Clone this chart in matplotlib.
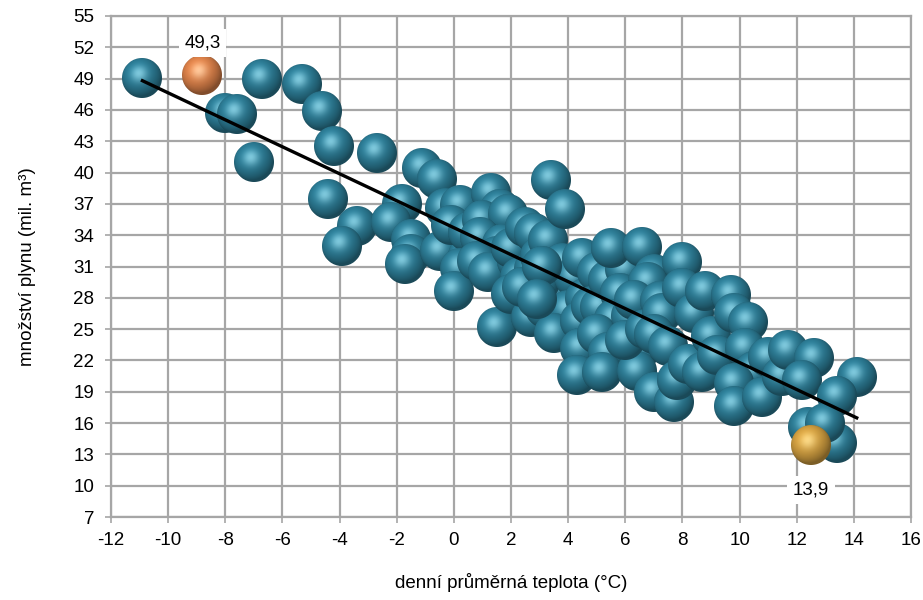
import numpy as np
import matplotlib
matplotlib.use("Agg")
import matplotlib.pyplot as plt
from matplotlib.offsetbox import OffsetImage, AnnotationBbox

# --- datos --- #
teplota = [-10.9, -6.7, -5.3, -4.6, -8.0, -7.6, -7.0, -4.2, -2.7, -4.4, -3.4, -3.9,
           -1.1, -0.6, -1.8, -2.2, -1.5, -1.5, -1.7, -0.5, 0.5, -0.3, 0.2, -0.1, 0.5,
           1.3, 1.6, 1.0, 1.9, 0.9, 1.7, 1.5, 0.2, 0.0, 0.8, 1.2, 1.5, 2.2, 2.0, 2.3,
           2.0, 2.8, 2.5, 2.8, 3.0, 3.3, 2.7, 3.2, 3.4, 3.9, 3.5, 3.0, 3.8, 4.2, 4.5,
           4.0, 4.6, 3.5, 4.4, 4.4, 4.3, 5.0, 4.8, 5.1, 5.4, 6.0, 5.5, 6.6, 5.8, 5.6,
           5.0, 6.2, 6.5, 5.4, 5.2, 6.4, 6.0, 7.0, 6.8, 6.3, 6.7, 7.2, 7.3, 7.0, 7.5,
           8.0, 8.0, 8.4, 7.0, 7.7, 7.8, 8.2, 8.7, 8.8, 9.7, 9.0, 9.8, 10.3, 9.2, 10.2,
           10.5, 9.8, 9.8, 10.8, 11.0, 11.5, 11.7, 12.6, 12.2, 14.1, 13.4, 13.4, 12.4,
           13.0, 2.4, 3.1, 2.9]
plyn = [49.1, 49.0, 48.5, 45.9, 45.7, 45.6, 41.0, 42.5, 41.9, 37.5, 34.9, 33.0,
        40.4, 39.4, 37.0, 35.3, 33.6, 32.2, 31.2, 32.5, 32.0, 36.6, 36.9, 35.0, 34.3,
        38.0, 36.5, 35.5, 36.0, 33.8, 33.2, 32.0, 30.9, 28.7, 31.5, 30.5, 25.2, 31.5, 32.8, 30.0,
        28.4, 30.8, 34.8, 34.2, 32.0, 33.5, 26.2, 27.0, 39.3, 36.5, 28.7, 29.5, 31.3, 30.0, 31.8,
        26.8, 28.0, 24.6, 25.8, 23.2, 20.6, 30.5, 27.2, 27.1, 29.7, 30.8, 32.8, 32.9, 28.5, 26.0,
        24.5, 26.3, 23.0, 22.8, 20.9, 21.0, 24.0, 30.3, 29.5, 27.8, 25.0, 27.7, 26.5, 24.5, 23.4,
        31.4, 28.9, 26.5, 19.0, 18.0, 20.1, 21.7, 20.9, 28.7, 28.3, 24.3, 26.5, 25.7, 22.5, 23.2,
        21.0, 19.8, 17.6, 18.5, 22.3, 20.5, 23.0, 22.2, 20.1, 20.4, 18.6, 14.1, 15.6,
        16.0, 29.0, 31.0, 27.9]

max_x, max_y = -8.8, 49.3   # nejvyssi spotreba
min_x, min_y = 12.5, 13.9   # nejnizsi spotreba
trend_x = [-10.9, 14.1]
trend_y = [48.8, 16.5]

x_ticks = list(range(-12, 17, 2))
y_ticks = list(range(7, 56, 3))

# --- koule (bubliny) --- #
def koule(barva, svetlo, n=44, r=20.0):
    c = (n - 1) / 2.0
    yy, xx = np.mgrid[0:n, 0:n]
    u = (xx - c) / r
    v = (c - yy) / r
    rr = u**2 + v**2
    z = np.sqrt(np.clip(1 - rr, 0, 1))
    L = np.array([-0.3, 0.45, 0.85])
    L = L / np.linalg.norm(L)
    dif = np.clip(u*L[0] + v*L[1] + z*L[2], 0, 1)
    H = L + np.array([0, 0, 1.0])
    H = H / np.linalg.norm(H)
    spec = np.clip(u*H[0] + v*H[1] + z*H[2], 0, 1) ** 12
    base = np.array(barva) / 255.0
    hi = np.array(svetlo) / 255.0
    col = base[None, None, :] * (0.58 + 0.47*dif[..., None]) + (hi - base)[None, None, :] * spec[..., None] * 0.75
    col = np.clip(col, 0, 1)
    a = np.clip((1 - np.sqrt(rr)) * r + 0.5, 0, 1)
    return np.dstack([col, a])

dpi = 100
img_modra = koule((45, 127, 153), (150, 218, 235))
img_oranz = koule((225, 132, 75), (255, 215, 175))
img_zluta = koule((215, 163, 66), (252, 225, 150))

fig = plt.figure(figsize=(9.23, 6.0), dpi=dpi)
ax = fig.add_axes([111/923, 1 - 517/600, 800/923, 501/600])

ax.set_xlim(-12, 16)
ax.set_ylim(7, 55)
ax.set_xticks(x_ticks)
ax.set_yticks(y_ticks)
ax.set_xticklabels([str(t) for t in x_ticks])
ax.grid(True, color="#a6a6a6", lw=1.6)
ax.set_axisbelow(True)
for s in ax.spines.values():
    s.set_color("#a6a6a6")
    s.set_linewidth(1.6)

font = ["Liberation Sans", "DejaVu Sans"]
fs = 13.5
ax.tick_params(colors="#a6a6a6", length=4, width=1.2, labelcolor="black", labelsize=fs)
ax.tick_params(axis="y", pad=8)
ax.tick_params(axis="x", pad=7)
for lab in ax.get_xticklabels() + ax.get_yticklabels():
    lab.set_family(font)

zoom = 72.0 / dpi
for i, (x, y) in enumerate(zip(teplota, plyn)):
    ab = AnnotationBbox(OffsetImage(img_modra, zoom=zoom), (x, y), frameon=False, pad=0)
    ab.set_zorder(3 + i*0.001)
    ax.add_artist(ab)
for (x, y, im) in [(max_x, max_y, img_oranz), (min_x, min_y, img_zluta)]:
    ab = AnnotationBbox(OffsetImage(im, zoom=zoom), (x, y), frameon=False, pad=0)
    ab.set_zorder(3.5)
    ax.add_artist(ab)

ax.plot(trend_x, trend_y, color="black", lw=2.4, zorder=5)

ax.text(max_x, max_y + 3.1, "49,3", ha="center", va="center", fontsize=fs, family=font,
        bbox=dict(facecolor="white", edgecolor="none", pad=4), zorder=6)
ax.text(min_x, min_y - 4.3, "13,9", ha="center", va="center", fontsize=fs, family=font,
        bbox=dict(facecolor="white", edgecolor="none", pad=4), zorder=6)

ax.set_xlabel("denní průměrná teplota (°C)", fontsize=fs, family=font, labelpad=17)
ax.set_ylabel("množství plynu (mil. m³)", fontsize=fs, family=font, labelpad=27)

fig.savefig("out.png", dpi=dpi)
